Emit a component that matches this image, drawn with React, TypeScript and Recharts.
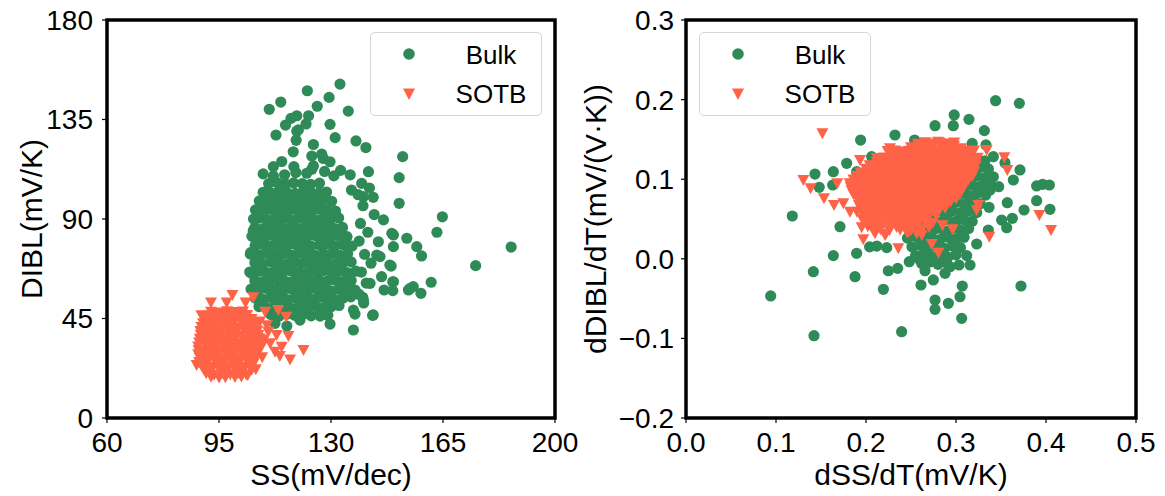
import React from "react";
import { ScatterChart, Scatter, XAxis, YAxis, ReferenceArea } from "recharts";

const GREEN = "#2e8b57";
const ORANGE = "#ff6347";
const FONT = '"Liberation Sans", Arial, sans-serif';

// ---- left panel: SS (mV/dec) vs DIBL (mV/K) ----
const leftXTicks = [60, 95, 130, 165, 200];
const leftYTicks = [0, 45, 90, 135, 180];

const leftBulk: [number, number][] = [
  // dense core
  [111.2, 46.8], [113.8, 46.1], [116.3, 47.0], [118.7, 46.4], [121.2, 46.9], [123.8, 46.2], [126.4, 47.1], [129, 46.5],
  [107.5, 50.4], [110, 49.8], [112.5, 50.6], [115, 50.1], [117.5, 49.7], [120, 50.5], [122.5, 50.0], [125, 50.8], [127.5, 49.9], [130, 50.3], [132.5, 50.9],
  [106.3, 54.2], [108.8, 53.7], [111.2, 54.5], [113.8, 54.0], [116.3, 53.6], [118.7, 54.4], [121.3, 54.1], [123.8, 53.8], [126.2, 54.6], [128.7, 54.0], [131.3, 53.5], [133.8, 54.3], [136.2, 54.8],
  [105, 58.3], [107.5, 57.8], [110, 58.5], [112.5, 58.0], [115, 57.6], [117.5, 58.4], [120, 58.1], [122.5, 57.7], [125, 58.6], [127.5, 58.0], [130, 57.5], [132.5, 58.2], [135, 58.7], [137.5, 57.9],
  [106.2, 62.1], [108.8, 61.7], [111.3, 62.4], [113.7, 62.0], [116.2, 61.6], [118.8, 62.5], [121.3, 62.0], [123.7, 61.8], [126.3, 62.3], [128.8, 61.9], [131.2, 62.4], [133.7, 61.7], [136.3, 62.2],
  [104.6, 66.0], [107.5, 66.4], [110, 65.8], [112.5, 66.3], [115, 65.9], [117.5, 66.5], [120, 66.0], [122.5, 65.7], [125, 66.2], [127.5, 66.6], [130, 65.9], [132.5, 66.3], [135, 65.8], [137.8, 66.4],
  [106.2, 70.2], [108.7, 69.8], [111.3, 70.5], [113.8, 70.0], [116.2, 69.6], [118.7, 70.4], [121.3, 70.1], [123.8, 69.7], [126.2, 70.3], [128.7, 70.0], [131.3, 69.5], [133.8, 70.2], [136.3, 70.6],
  [104.8, 74.1], [107.5, 73.8], [110, 74.4], [112.5, 73.9], [115, 74.2], [117.5, 73.7], [120, 74.5], [122.5, 74.0], [125, 73.6], [127.5, 74.3], [130, 74.0], [132.5, 73.7], [135.2, 74.4],
  [106.3, 78.0], [108.8, 78.4], [111.2, 77.8], [113.7, 78.3], [116.3, 77.9], [118.8, 78.5], [121.2, 78.0], [123.7, 77.7], [126.3, 78.2], [128.8, 78.6], [131.2, 77.9], [133.8, 78.3], [136.6, 77.8],
  [105.3, 82.2], [107.5, 81.8], [110, 82.4], [112.5, 82.0], [115, 81.6], [117.5, 82.3], [120, 82.0], [122.5, 81.7], [125, 82.5], [127.5, 82.1], [130, 81.8], [132.5, 82.4], [135, 82.0],
  [106.2, 86.1], [108.8, 85.7], [111.3, 86.4], [113.8, 86.0], [116.2, 85.6], [118.7, 86.3], [121.3, 86.0], [123.8, 85.8], [126.2, 86.4], [128.8, 86.0], [131.3, 85.7], [133.6, 86.2],
  [105.8, 90.0], [107.5, 90.4], [110, 89.8], [112.5, 90.3], [115, 90.0], [117.5, 89.6], [120, 90.4], [122.5, 90.0], [125, 89.7], [127.5, 90.3], [130, 90.0], [132.4, 90.5],
  [106.4, 94.1], [108.8, 93.7], [111.2, 94.4], [113.8, 94.0], [116.3, 93.6], [118.7, 94.3], [121.2, 94.0], [123.8, 93.8], [126.3, 94.4], [128.7, 94.0], [131.4, 93.6],
  [107.6, 98.2], [110, 97.8], [112.5, 98.4], [115, 98.0], [117.5, 97.6], [120, 98.3], [122.5, 98.0], [125, 97.7], [127.5, 98.4], [130.2, 98.0],
  [108.8, 102.1], [111.3, 101.7], [113.7, 102.4], [116.2, 102.0], [118.8, 101.6], [121.3, 102.3], [123.7, 102.0], [126.2, 101.7], [128.6, 102.2],
  [110.5, 106.0], [113.2, 106.4], [115.8, 105.8], [118.3, 106.3], [121, 106.0], [123.6, 105.7], [126.4, 106.2],
  // fringe around the core
  [138.5, 101], [140, 96], [139.2, 88], [141.5, 84], [138.8, 80], [140.5, 74], [142.5, 70], [139.5, 66], [141, 61],
  [138.7, 56], [140.2, 52], [137.5, 47], [143.5, 92], [142, 104], [136, 110], [133, 112], [128, 111.5], [124, 112.5],
  [119, 111], [115.5, 110], [112, 109.5], [105.7, 84.7], [104.9, 74.8], [105.2, 65.4], [107.3, 93.3], [108.3, 97.1],
  [146.4, 89.6], [149, 83.5], [153.7, 81.3], [156.8, 77.5], [158.3, 73.3], [148.4, 69.2], [149.5, 77.5], [144.3, 73.7],
  [145.8, 63.9], [149.5, 61.6], [154.7, 58.6], [143.2, 46.6], [137, 39.8], [129.7, 42.5], [120.3, 44.3], [140.1, 53.4],
  [142.2, 60.9], [126.6, 46.1], [116.2, 41.6], [112.5, 42.8], [139.9, 54.6], [137, 48.8], [143, 46.4], [146.6, 57.9],
  [145.3, 73], [144.8, 79.7], [143.2, 99.8], [140.1, 100.1], [136.4, 103.1], [139.6, 106.1],
  // sparse points above and right
  [132.8, 151], [122.6, 148], [129.4, 145], [114.3, 142.9], [110.7, 139.6], [125.7, 141], [135.4, 138.8],
  [123, 136.7], [119.3, 136.7], [115.8, 132.5], [129.7, 132.8], [112.8, 128], [119.3, 129.7], [131.3, 126.8],
  [137.8, 125.3], [140.9, 122.3], [152.4, 118.2], [124.5, 123.7], [127.1, 119.3], [129.7, 115.9], [141.7, 111.4],
  [151.3, 108.7], [108.8, 110.4], [112, 113.7], [114.6, 116], [118.4, 113.7], [124.5, 114], [122.4, 110.7],
  [130.9, 109.5], [151.3, 97.1], [118.2, 120.4], [119.1, 125.6], [119.8, 130.3], [117.5, 135.5], [122.2, 133],
  [124, 118.5], [127.6, 117.4], [164.8, 91], [163.1, 84], [186.3, 77.3], [175.2, 68.9], [161.3, 61.4],
  [155.7, 59.4], [154.2, 57.9], [158.1, 56.4], [149.3, 57.6], [149.3, 61.6], [148.8, 68.7], [149.5, 82.8],
];

const leftSotb: [number, number][] = [
  [92.5, 18.6], [97, 18.4], [102, 18.8],
  [91, 20.2], [93.5, 19.6], [96, 20.4], [98.5, 19.8], [101, 20.3], [103.5, 19.7],
  [90.3, 21.9], [92.8, 22.1], [95.3, 21.7], [97.8, 22.0], [100.3, 21.8], [102.8, 22.2], [105.2, 21.8],
  [89.6, 23.6], [92.2, 23.2], [94.7, 23.8], [97.2, 23.4], [99.7, 23.7], [102.2, 23.1], [104.7, 23.6],
  [88.8, 25.3], [91.3, 25.1], [93.8, 25.5], [96.3, 25.2], [98.8, 25.4], [101.3, 25.0], [103.8, 25.5], [106.0, 25.2],
  [89, 27.1], [91, 26.7], [93.5, 27.3], [96, 26.9], [98.5, 27.2], [101, 26.8], [103.5, 27.4], [106, 26.9],
  [88.5, 28.8], [90.0, 29.0], [92.3, 28.6], [94.8, 28.9], [97.3, 28.7], [99.8, 29.1], [102.3, 28.6], [104.8, 28.9], [106.8, 29.1],
  [88.6, 30.6], [90.2, 30.2], [92.7, 30.8], [95.2, 30.4], [97.7, 30.7], [100.2, 30.3], [102.7, 30.9], [105.2, 30.5], [107.5, 30.8],
  [88.5, 32.3], [91.3, 32.1], [93.8, 32.5], [96.3, 32.2], [98.8, 32.4], [101.3, 32.0], [103.8, 32.5], [106.3, 32.1], [108.3, 32.4],
  [88.8, 34.1], [91, 33.7], [93.5, 34.3], [96, 33.9], [98.5, 34.2], [101, 33.8], [103.5, 34.4], [106, 33.9], [108, 34.3],
  [89, 35.8], [90.8, 36.0], [92.8, 35.6], [95.3, 35.9], [97.8, 35.7], [100.3, 36.1], [102.8, 35.6], [105.3, 35.9], [107.6, 36.1],
  [89.3, 37.6], [92.2, 37.2], [94.7, 37.8], [97.2, 37.4], [99.7, 37.7], [102.2, 37.3], [104.7, 37.9], [107.3, 37.5],
  [89.2, 39.3], [91.0, 39.5], [93.0, 39.1], [95.5, 39.4], [98.0, 39.2], [100.5, 39.6], [103.0, 39.1], [105.5, 39.4], [107.0, 39.6],
  [89.5, 41.1], [91.2, 40.7], [93.5, 41.3], [96, 40.9], [98.5, 41.2], [101, 40.8], [103.5, 41.4], [106, 40.9],
  [90.0, 42.8], [92.2, 43.0], [94.5, 42.6], [97.0, 42.9], [99.5, 42.7], [102.0, 43.1], [104.5, 42.6], [106.5, 42.9],
  [90.5, 44.6], [92.7, 44.2], [95.2, 44.8], [97.7, 44.4], [100.2, 44.7], [102.7, 44.3], [105.2, 44.8],
  [91.3, 46.3], [93.8, 46.5], [96.3, 46.1], [98.8, 46.4], [101.3, 46.2], [103.8, 46.6],
  [92.5, 48.1], [95, 47.7], [97.5, 48.3], [100, 47.9], [102.5, 48.2],
  [99.2, 55.6], [92.5, 52.2], [97.4, 52.2], [103.3, 52.2], [105.7, 54.6], [109.4, 48], [113.5, 48.8],
  [116, 45.8], [107.8, 43.6], [113, 37.5], [116.7, 37.1], [121.4, 30.8], [114.6, 32.2], [112.5, 30],
  [114, 28], [117.2, 26.5], [111, 33.8], [88, 24], [110, 42], [110.4, 39], [109, 35.5], [108.5, 27.5],
  [106.5, 22], [95, 18.3], [100, 18.5], [104, 19.5], [89.5, 46.5],
];

// ---- right panel: dSS/dT vs dDIBL/dT ----
const rightXTicks = [0, 0.1, 0.2, 0.3, 0.4, 0.5];
const rightYTicks = [-0.2, -0.1, 0, 0.1, 0.2, 0.3];

const rightBulk: [number, number][] = [
  [0.296, 0.125], [0.305, 0.127], [0.314, 0.124], [0.323, 0.126], [0.332, 0.123],
  [0.282, 0.114], [0.291, 0.116], [0.3, 0.113], [0.309, 0.115], [0.318, 0.112], [0.327, 0.115], [0.336, 0.113],
  [0.278, 0.103], [0.287, 0.105], [0.296, 0.102], [0.305, 0.104], [0.314, 0.101], [0.323, 0.104], [0.332, 0.102],
  [0.273, 0.092], [0.282, 0.094], [0.291, 0.091], [0.3, 0.093], [0.309, 0.09], [0.318, 0.093], [0.327, 0.091], [0.338, 0.093],
  [0.26, 0.081], [0.269, 0.083], [0.278, 0.08], [0.287, 0.082], [0.296, 0.079], [0.305, 0.082], [0.314, 0.08], [0.323, 0.082], [0.333, 0.08],
  [0.255, 0.07], [0.264, 0.072], [0.273, 0.069], [0.282, 0.071], [0.291, 0.068], [0.3, 0.071], [0.309, 0.069], [0.318, 0.071], [0.327, 0.069],
  [0.25, 0.059], [0.26, 0.061], [0.269, 0.058], [0.278, 0.06], [0.287, 0.057], [0.296, 0.06], [0.305, 0.058], [0.314, 0.06], [0.323, 0.058],
  [0.246, 0.048], [0.255, 0.05], [0.264, 0.047], [0.273, 0.049], [0.282, 0.046], [0.291, 0.049], [0.3, 0.047], [0.309, 0.049], [0.318, 0.047],
  [0.25, 0.037], [0.26, 0.039], [0.269, 0.036], [0.278, 0.038], [0.287, 0.035], [0.296, 0.038], [0.305, 0.036], [0.314, 0.038],
  [0.246, 0.026], [0.255, 0.028], [0.264, 0.025], [0.273, 0.027], [0.282, 0.024], [0.291, 0.027], [0.3, 0.025], [0.309, 0.027],
  [0.251, 0.015], [0.26, 0.017], [0.269, 0.014], [0.278, 0.016], [0.287, 0.013], [0.296, 0.016], [0.305, 0.014],
  [0.255, 0.004], [0.264, 0.006], [0.273, 0.003], [0.282, 0.005], [0.291, 0.002], [0.3, 0.005],
  [0.262, -0.006], [0.271, -0.004], [0.28, -0.007], [0.289, -0.005],
  [0.23, 0.1], [0.21, 0.09], [0.22, 0.12], [0.25, 0.13], [0.24, 0.08], [0.2, 0.07], [0.235, 0.055],
  // scattered points
  [0.344, 0.1986], [0.3704, 0.1953], [0.298, 0.1807], [0.3144, 0.1752], [0.2767, 0.1672], [0.297, 0.1672],
  [0.3315, 0.161], [0.2322, 0.1555], [0.194, 0.1492], [0.254, 0.1492], [0.318, 0.145], [0.3333, 0.143],
  [0.2063, 0.1283], [0.1785, 0.12], [0.1637, 0.1094], [0.1433, 0.1065], [0.1896, 0.1094], [0.148, 0.0898],
  [0.163, 0.0927], [0.3415, 0.1283], [0.3544, 0.1207], [0.3711, 0.1116], [0.3637, 0.099], [0.3896, 0.0915],
  [0.3963, 0.0936], [0.4037, 0.0927], [0.4044, 0.0622], [0.3756, 0.0613], [0.3896, 0.073], [0.357, 0.0705],
  [0.3367, 0.0647], [0.3626, 0.0509], [0.3507, 0.0487], [0.3563, 0.0391], [0.3359, 0.0362], [0.323, 0.0186],
  [0.3119, 0.004], [0.3156, -0.0078], [0.3033, -0.0078], [0.3722, -0.0342], [0.307, -0.0342], [0.3044, -0.0476],
  [0.3063, -0.0748], [0.2915, -0.0559], [0.2767, -0.0518], [0.2767, -0.0635], [0.2748, -0.0266], [0.2611, -0.0329],
  [0.2656, -0.015], [0.2878, -0.0183], [0.2933, -0.01], [0.2396, -0.0916], [0.2193, -0.0383], [0.1878, -0.0225],
  [0.1415, -0.0162], [0.1637, 0.004], [0.1896, 0.0069], [0.2248, -0.015], [0.2352, -0.012], [0.1181, 0.0538],
  [0.1711, 0.0403], [0.0941, -0.0467], [0.1422, -0.0966], [0.2481, -0.0036], [0.2711, -0.0036], [0.26, -0.0015],
  [0.204, 0.015], [0.212, 0.016], [0.223, 0.014], [0.319, 0.12], [0.3415, 0.103], [0.3378, 0.0864], [0.3474, 0.0906],
];

const rightSotb: [number, number][] = [
  [0.258, 0.1445], [0.266, 0.1465], [0.274, 0.1442], [0.282, 0.1458], [0.29, 0.1448], [0.298, 0.1462],
  [0.25, 0.14], [0.258, 0.142], [0.266, 0.139], [0.274, 0.141], [0.282, 0.143], [0.29, 0.14], [0.298, 0.142], [0.306, 0.139],
  [0.224, 0.1355], [0.232, 0.1362], [0.24, 0.1348], [0.248, 0.1358], [0.256, 0.1352], [0.264, 0.1364], [0.272, 0.1349], [0.28, 0.1357], [0.288, 0.1361], [0.296, 0.135], [0.304, 0.1359], [0.312, 0.1353], [0.32, 0.136],
  [0.228, 0.131], [0.236, 0.133], [0.244, 0.13], [0.252, 0.132], [0.26, 0.131], [0.268, 0.133], [0.276, 0.13], [0.284, 0.132], [0.292, 0.131], [0.3, 0.133], [0.308, 0.13], [0.316, 0.132],
  [0.212, 0.1265], [0.22, 0.1272], [0.228, 0.1258], [0.236, 0.1268], [0.244, 0.1262], [0.252, 0.1274], [0.26, 0.1259], [0.268, 0.1267], [0.276, 0.1271], [0.284, 0.126], [0.292, 0.1269], [0.3, 0.1263], [0.308, 0.127], [0.316, 0.1261], [0.324, 0.1268],
  [0.212, 0.122], [0.22, 0.124], [0.228, 0.121], [0.236, 0.123], [0.244, 0.122], [0.252, 0.124], [0.26, 0.121], [0.268, 0.123], [0.276, 0.122], [0.284, 0.124], [0.292, 0.121], [0.3, 0.123], [0.308, 0.122], [0.316, 0.124], [0.322, 0.121],
  [0.204, 0.1175], [0.212, 0.1182], [0.22, 0.1168], [0.228, 0.1178], [0.236, 0.1172], [0.244, 0.1184], [0.252, 0.1169], [0.26, 0.1177], [0.268, 0.1181], [0.276, 0.117], [0.284, 0.1179], [0.292, 0.1173], [0.3, 0.118], [0.308, 0.1171], [0.316, 0.1178], [0.322, 0.1174],
  [0.2, 0.113], [0.208, 0.115], [0.216, 0.112], [0.224, 0.114], [0.232, 0.113], [0.24, 0.115], [0.248, 0.112], [0.256, 0.114], [0.264, 0.113], [0.272, 0.115], [0.28, 0.112], [0.288, 0.114], [0.296, 0.113], [0.304, 0.115], [0.312, 0.112], [0.319, 0.114],
  [0.194, 0.1085], [0.202, 0.1092], [0.21, 0.1078], [0.218, 0.1088], [0.226, 0.1082], [0.234, 0.1094], [0.242, 0.1079], [0.25, 0.1087], [0.258, 0.1091], [0.266, 0.108], [0.274, 0.1089], [0.282, 0.1083], [0.29, 0.109], [0.298, 0.1081], [0.306, 0.1088], [0.314, 0.1084], [0.32, 0.109],
  [0.19, 0.104], [0.198, 0.106], [0.206, 0.103], [0.214, 0.105], [0.222, 0.104], [0.23, 0.106], [0.238, 0.103], [0.246, 0.105], [0.254, 0.104], [0.262, 0.106], [0.27, 0.103], [0.278, 0.105], [0.286, 0.104], [0.294, 0.106], [0.302, 0.103], [0.31, 0.105], [0.318, 0.104],
  [0.186, 0.0995], [0.194, 0.1002], [0.202, 0.0988], [0.21, 0.0998], [0.218, 0.0992], [0.226, 0.1004], [0.234, 0.0989], [0.242, 0.0997], [0.25, 0.1001], [0.258, 0.099], [0.266, 0.0999], [0.274, 0.0993], [0.282, 0.1], [0.29, 0.0991], [0.298, 0.0998], [0.306, 0.0994], [0.314, 0.1],
  [0.182, 0.095], [0.19, 0.097], [0.198, 0.094], [0.206, 0.096], [0.214, 0.095], [0.222, 0.097], [0.23, 0.094], [0.238, 0.096], [0.246, 0.095], [0.254, 0.097], [0.262, 0.094], [0.27, 0.096], [0.278, 0.095], [0.286, 0.097], [0.294, 0.094], [0.302, 0.096], [0.31, 0.095],
  [0.183, 0.0905], [0.19, 0.0912], [0.198, 0.0898], [0.206, 0.0908], [0.214, 0.0902], [0.222, 0.0914], [0.23, 0.0899], [0.238, 0.0907], [0.246, 0.0911], [0.254, 0.09], [0.262, 0.0909], [0.27, 0.0903], [0.278, 0.091], [0.286, 0.0901], [0.294, 0.0908], [0.302, 0.0904], [0.309, 0.091],
  [0.184, 0.086], [0.194, 0.088], [0.202, 0.085], [0.21, 0.087], [0.218, 0.086], [0.226, 0.088], [0.234, 0.085], [0.242, 0.087], [0.25, 0.086], [0.258, 0.088], [0.266, 0.085], [0.274, 0.087], [0.282, 0.086], [0.29, 0.088], [0.298, 0.085], [0.306, 0.087],
  [0.186, 0.0815], [0.194, 0.0822], [0.202, 0.0808], [0.21, 0.0818], [0.218, 0.0812], [0.226, 0.0824], [0.234, 0.0809], [0.242, 0.0817], [0.25, 0.0821], [0.258, 0.081], [0.266, 0.0819], [0.274, 0.0813], [0.282, 0.082], [0.29, 0.0811], [0.298, 0.0818], [0.304, 0.0814],
  [0.19, 0.077], [0.198, 0.079], [0.206, 0.076], [0.214, 0.078], [0.222, 0.077], [0.23, 0.079], [0.238, 0.076], [0.246, 0.078], [0.254, 0.077], [0.262, 0.079], [0.27, 0.076], [0.278, 0.078], [0.286, 0.077], [0.294, 0.079], [0.3, 0.076],
  [0.192, 0.0725], [0.2, 0.0732], [0.208, 0.0718], [0.216, 0.0728], [0.224, 0.0722], [0.232, 0.0734], [0.24, 0.0719], [0.248, 0.0727], [0.256, 0.0731], [0.264, 0.072], [0.272, 0.0729], [0.28, 0.0723], [0.288, 0.073], [0.294, 0.0721],
  [0.192, 0.068], [0.2, 0.068], [0.208, 0.07], [0.216, 0.067], [0.224, 0.069], [0.232, 0.068], [0.24, 0.07], [0.248, 0.067], [0.256, 0.069], [0.264, 0.068], [0.272, 0.07], [0.28, 0.067], [0.288, 0.069],
  [0.194, 0.0635], [0.202, 0.0642], [0.21, 0.0628], [0.218, 0.0638], [0.226, 0.0632], [0.234, 0.0644], [0.242, 0.0629], [0.25, 0.0637], [0.258, 0.0641], [0.266, 0.063], [0.274, 0.0639], [0.282, 0.0633], [0.288, 0.064],
  [0.19, 0.059], [0.198, 0.06], [0.206, 0.059], [0.214, 0.061], [0.222, 0.058], [0.23, 0.06], [0.238, 0.059], [0.246, 0.061], [0.254, 0.058], [0.262, 0.06], [0.27, 0.059], [0.278, 0.061],
  [0.198, 0.0545], [0.206, 0.0552], [0.214, 0.0538], [0.222, 0.0548], [0.23, 0.0542], [0.238, 0.0554], [0.246, 0.0539], [0.254, 0.0547], [0.262, 0.0551], [0.27, 0.054], [0.278, 0.0549],
  [0.196, 0.05], [0.204, 0.051], [0.212, 0.05], [0.22, 0.052], [0.228, 0.049], [0.236, 0.051], [0.244, 0.05], [0.252, 0.052], [0.26, 0.049], [0.268, 0.051],
  [0.202, 0.0455], [0.21, 0.0462], [0.218, 0.0448], [0.226, 0.0458], [0.234, 0.0452], [0.242, 0.0464], [0.25, 0.0449], [0.258, 0.0457], [0.266, 0.0461], [0.274, 0.045],
  [0.202, 0.041], [0.21, 0.042], [0.218, 0.041], [0.226, 0.043], [0.234, 0.04], [0.242, 0.042], [0.25, 0.041], [0.258, 0.043], [0.27, 0.04], [0.285, 0.042],
  [0.208, 0.0365], [0.216, 0.0372], [0.226, 0.0358], [0.238, 0.0368], [0.25, 0.0362], [0.262, 0.037],
  [0.222, 0.031], [0.247, 0.033], [0.262, 0.03], [0.269, 0.145], [0.28, 0.147],
  // scattered triangles
  [0.1515, 0.1577], [0.1304, 0.099], [0.1385, 0.0885], [0.1533, 0.076], [0.1644, 0.0676], [0.1681, 0.0948],
  [0.1933, 0.1241], [0.2267, 0.1388], [0.2452, 0.1346], [0.3341, 0.1367], [0.3537, 0.1275], [0.357, 0.1116],
  [0.3926, 0.055], [0.4056, 0.0362], [0.337, 0.0278], [0.2963, 0.037], [0.273, 0.0186], [0.2804, 0.0077],
  [0.2359, 0.0132], [0.197, 0.0245], [0.1952, 0.0396], [0.21, 0.032], [0.2211, 0.0299], [0.2452, 0.034],
  [0.2563, 0.032], [0.3248, 0.0676], [0.323, 0.0613], [0.1822, 0.0592], [0.1748, 0.0697],
];

const toPoints = (arr: [number, number][]) => arr.map(([x, y]) => ({ x, y }));

function Dot(props: any) {
  const { cx, cy } = props;
  if (cx == null || cy == null) return null;
  return <circle cx={cx} cy={cy} r={5.6} fill={GREEN} />;
}

function Tri(props: any) {
  const { cx, cy } = props;
  if (cx == null || cy == null) return null;
  return <path d={`M${cx - 6},${cy - 5}L${cx + 6},${cy - 5}L${cx},${cy + 6}Z`} fill={ORANGE} />;
}

const fmtRight = (v: number) => (v < 0 ? "\u2212" + Math.abs(v).toFixed(1) : v.toFixed(1));

interface PanelProps {
  left: number;
  width: number;
  yAxisWidth: number;
  marginRight: number;
  xDomain: [number, number];
  yDomain: [number, number];
  xTicks: number[];
  yTicks: number[];
  yTickMargin: number;
  fmt?: (v: number) => string;
  bulk: [number, number][];
  sotb: [number, number][];
}

function Panel(p: PanelProps) {
  const tick = { fill: "#000", fontSize: 28, fontFamily: FONT };
  const tickLine = { stroke: "#000", strokeWidth: 1.2 };
  return (
    <div style={{ position: "absolute", left: p.left, top: 0 }}>
      <ScatterChart width={p.width} height={496} margin={{ top: 20, right: p.marginRight, bottom: 0, left: 0 }}>
        <XAxis
          type="number"
          dataKey="x"
          domain={p.xDomain}
          ticks={p.xTicks}
          interval={0}
          allowDataOverflow
          height={78}
          tickSize={5}
          tickMargin={9}
          axisLine={false}
          tickLine={tickLine}
          tick={tick}
          tickFormatter={p.fmt}
        />
        <YAxis
          type="number"
          dataKey="y"
          domain={p.yDomain}
          ticks={p.yTicks}
          interval={0}
          allowDataOverflow
          width={p.yAxisWidth}
          tickSize={5}
          tickMargin={p.yTickMargin}
          axisLine={false}
          tickLine={tickLine}
          tick={tick}
          tickFormatter={p.fmt}
        />
        <Scatter data={toPoints(p.bulk)} shape={Dot} isAnimationActive={false} />
        <Scatter data={toPoints(p.sotb)} shape={Tri} isAnimationActive={false} />
        <ReferenceArea
          x1={p.xDomain[0]}
          x2={p.xDomain[1]}
          y1={p.yDomain[0]}
          y2={p.yDomain[1]}
          fill="none"
          stroke="#000"
          strokeWidth={3.5}
          ifOverflow="visible"
        />
      </ScatterChart>
    </div>
  );
}

function LegendBox({ left }: { left: number }) {
  return (
    <div
      style={{
        position: "absolute",
        left,
        top: 32,
        width: 172,
        height: 84,
        border: "1px solid #d6d6d6",
        borderRadius: 5,
        background: "rgba(255,255,255,0.85)",
        boxSizing: "border-box",
      }}
    >
      <svg width={172} height={84} style={{ position: "absolute", left: -1, top: -1 }}>
        <circle cx={39} cy={22} r={5.8} fill={GREEN} />
        <path d="M33,56.5L45,56.5L39,68Z" fill={ORANGE} />
        <text x={121} y={31.5} textAnchor="middle" fontSize={26} fontFamily={FONT} fill="#000">Bulk</text>
        <text x={121} y={70.5} textAnchor="middle" fontSize={26} fontFamily={FONT} fill="#000">SOTB</text>
      </svg>
    </div>
  );
}

export default function App() {
  return (
    <div style={{ position: "absolute", left: 0, top: 0, width: 1165, height: 496, background: "#fff", fontFamily: FONT }}>
      <Panel
        left={0}
        width={590}
        yAxisWidth={107}
        marginRight={35}
        xDomain={[60, 200]}
        yDomain={[0, 180]}
        xTicks={leftXTicks}
        yTicks={leftYTicks}
        yTickMargin={9}
        bulk={leftBulk}
        sotb={leftSotb}
      />
      <Panel
        left={560}
        width={605}
        yAxisWidth={126}
        marginRight={29}
        xDomain={[0, 0.5]}
        yDomain={[-0.2, 0.3]}
        xTicks={rightXTicks}
        yTicks={rightYTicks}
        yTickMargin={7}
        fmt={fmtRight}
        bulk={rightBulk}
        sotb={rightSotb}
      />
      <LegendBox left={370} />
      <LegendBox left={699} />
      <svg width={1165} height={496} style={{ position: "absolute", left: 0, top: 0, pointerEvents: "none" }}>
        <text x={331} y={485} textAnchor="middle" fontSize={30} fontFamily={FONT} fill="#000">SS(mV/dec)</text>
        <text x={911} y={485} textAnchor="middle" fontSize={30} fontFamily={FONT} fill="#000">dSS/dT(mV/K)</text>
        <text transform="translate(42,219) rotate(-90)" textAnchor="middle" fontSize={30} fontFamily={FONT} fill="#000">DIBL(mV/K)</text>
        <text transform="translate(606,219) rotate(-90)" textAnchor="middle" fontSize={30} fontFamily={FONT} fill="#000">dDIBL/dT(mV/(V·K))</text>
      </svg>
    </div>
  );
}
